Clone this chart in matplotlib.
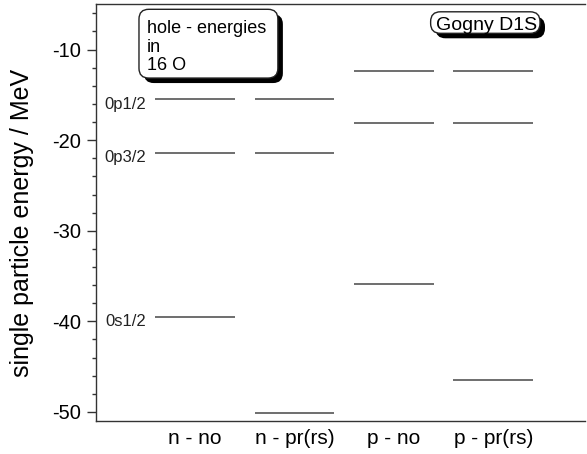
import matplotlib.pyplot as plt
from matplotlib.patches import FancyBboxPatch
from matplotlib.ticker import MultipleLocator
import matplotlib.patheffects as pe

plt.rcParams['font.family'] = ['Liberation Sans', 'DejaVu Sans']
plt.rcParams['axes.unicode_minus'] = False

# single particle hole energies (MeV), levels 0p1/2, 0p3/2, 0s1/2
categories = ['n - no', 'n - pr(rs)', 'p - no', 'p - pr(rs)']
level_names = ['0p1/2', '0p3/2', '0s1/2']
n_no = [-15.5, -21.4, -39.5]
n_pr = [-15.5, -21.4, -50.1]
p_no = [-12.4, -18.1, -35.9]
p_pr = [-12.4, -18.1, -46.5]
series = [n_no, n_pr, p_no, p_pr]

fig = plt.figure(figsize=(5.87, 4.54), dpi=100)
ax = fig.add_axes([95.6 / 587, 33 / 454, 489.1 / 587, 416.7 / 454])

half = 0.4
line_col = '#555555'
for i, levels in enumerate(series):
    x = i + 1
    ax.hlines(levels, x - half, x + half, colors=line_col, lw=1.2)

# level names next to the first column
for name, e in zip(level_names, n_no):
    ax.annotate(name, xy=(1 - half, e), xytext=(-9, -5),
                textcoords='offset pixels', ha='right', va='center',
                fontsize=12, color='#222222')

ax.set_xlim(0, 4.92)
ax.set_ylim(-51, -5)
ax.set_xticks(range(1, len(categories) + 1))
ax.set_xticklabels(categories, fontsize=15)
ax.tick_params(axis='x', length=0, pad=6)
ax.yaxis.set_major_locator(MultipleLocator(10))
ax.yaxis.set_minor_locator(MultipleLocator(2))
ax.tick_params(axis='y', which='major', length=6.5, width=1, labelsize=14.5,
               pad=4, color='#333333')
ax.tick_params(axis='y', which='minor', length=3.2, width=1, color='#333333')
ax.set_ylabel('single particle energy / MeV', fontsize=18)
ax.yaxis.set_label_coords(-0.126, 0.475)

ax.spines['right'].set_visible(False)
for s in ['left', 'top', 'bottom']:
    ax.spines[s].set_color('#333333')
    ax.spines[s].set_linewidth(1)

# rounded boxes with drop shadows
asp = 489.1 / 416.7
shadow = [pe.SimplePatchShadow(offset=(3.6, -3.6), shadow_rgbFace='black', alpha=1.0), pe.Normal()]
for (x0, y0, w, h) in [(0.0887, 0.823, 0.284, 0.165), (0.685, 0.9304, 0.2236, 0.0516)]:
    box = FancyBboxPatch((x0, y0), w, h, transform=ax.transAxes,
                         boxstyle='round,pad=0,rounding_size=0.02',
                         mutation_aspect=asp, fc='white', ec='#222222',
                         lw=1, clip_on=False, zorder=5)
    box.set_path_effects(shadow)
    ax.add_patch(box)

ax.text(0.1045, 0.8975, 'hole - energies\nin\n16 O', transform=ax.transAxes,
        ha='left', va='center', fontsize=13, linespacing=1.08, zorder=6)
ax.text(0.7997, 0.938, 'Gogny D1S', transform=ax.transAxes,
        ha='center', va='baseline', fontsize=14, zorder=6)

fig.savefig('out.png', dpi=100)
